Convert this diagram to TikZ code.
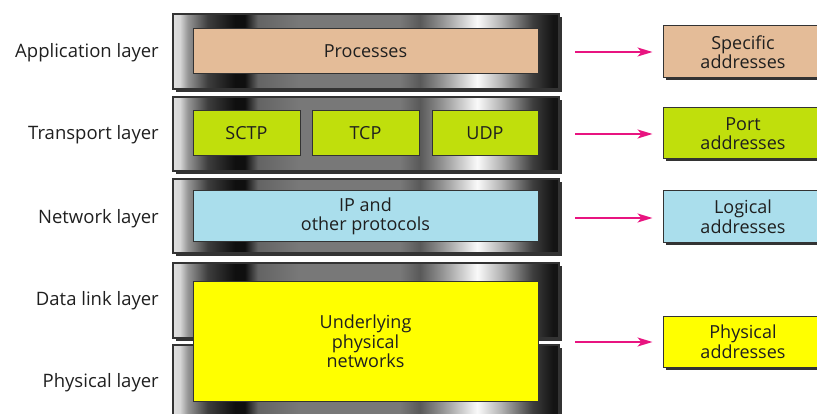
\documentclass[tikz,border=0pt]{standalone}
\usepackage{fontspec}
\setmainfont{Open Sans}
\usetikzlibrary{shadows,arrows.meta}
\pgfdeclarehorizontalshading{metal}{100bp}{%
color(0bp)=(black!12);
color(25bp)=(black!12);
color(25.9bp)=(black!16);
color(26.9bp)=(black!41);
color(29.5bp)=(black!76);
color(33bp)=(black!94);
color(34.3bp)=(black!94);
color(36bp)=(black!61);
color(41.2bp)=(black!53);
color(54.4bp)=(black!53);
color(57bp)=(black!65);
color(60bp)=(black!41);
color(64.4bp)=(black!2);
color(67.4bp)=(black!29);
color(71.6bp)=(black!76);
color(74.2bp)=(black!92);
color(75bp)=(black!92);
color(100bp)=(black!92)}
\definecolor{tan}{RGB}{228,188,152}
\definecolor{lime}{RGB}{192,223,12}
\definecolor{ltblue}{RGB}{170,222,236}
\definecolor{yel}{RGB}{255,255,0}
\definecolor{pink}{RGB}{232,20,128}
\tikzset{
  lbl/.style={anchor=east,font=\fontsize{18.5}{20}\selectfont,inner sep=0pt,text=black!88},
  layer/.style={draw=black!80,line width=1.2pt,shading=metal,minimum width=386pt,
    drop shadow={shadow xshift=3pt,shadow yshift=-3pt,fill=black!80,opacity=1},inner sep=0pt},
  inbox/.style={draw=black!80,line width=1pt,inner sep=0pt,align=center,text=black!88,
    font=\fontsize{18}{19.5}\selectfont},
  addr/.style={draw=black!80,line width=1pt,inner sep=0pt,align=center,minimum width=160pt,
    text=black!88,font=\fontsize{18}{19.5}\selectfont,
    drop shadow={shadow xshift=2.5pt,shadow yshift=-2.5pt,fill=black!80,opacity=1}},
  arr/.style={pink,line width=2pt,-{Stealth[length=15pt,width=9pt,inset=4pt]}}
}
\begin{document}
\begin{tikzpicture}[x=1pt,y=-1pt]
\path[use as bounding box,clip] (0,0) rectangle (817,414);
% left labels
\node[lbl] (lapp) at (159,53) {Application layer};
\node[lbl] (ltr) at (159,134.5) {Transport layer};
\node[lbl] (lnet) at (159,218.5) {Network layer};
\node[lbl] (ldl) at (159,300.5) {Data link layer};
\node[lbl] (lph) at (159,382.5) {Physical layer};
% layers
\node[layer,minimum height=75pt] (app) at (366,51.5) {};
\node[layer,minimum height=74pt] (tr) at (366,134) {};
\node[layer,minimum height=74pt] (net) at (366,216) {};
\node[layer,minimum height=75pt] (dl) at (366,300.5) {};
\node[layer,minimum height=75pt] (ph) at (366,382.5) {};
% inner boxes
\node[inbox,fill=tan,minimum width=345pt,minimum height=45pt] (proc) at (365.5,51.5) {Processes};
\node[inbox,fill=lime,minimum width=107pt,minimum height=45pt] (sctp) at (246.5,133.5) {SCTP};
\node[inbox,fill=lime,minimum width=107pt,minimum height=45pt] (tcp) at (365.5,133.5) {TCP};
\node[inbox,fill=lime,minimum width=106pt,minimum height=45pt] (udp) at (485,133.5) {UDP};
\node[inbox,fill=ltblue,minimum width=345pt,minimum height=51pt] (ip) at (365.5,216.5) {IP and\\other protocols};
\node[inbox,fill=yel,minimum width=345pt,minimum height=119pt] (und) at (365.5,341.5) {Underlying\\physical\\networks};
% address boxes
\node[addr,fill=tan,minimum height=52pt] (spec) at (743,52) {Specific\\addresses};
\node[addr,fill=lime,minimum height=51pt] (port) at (743,133.5) {Port\\addresses};
\node[addr,fill=ltblue,minimum height=52pt] (logi) at (743,217) {Logical\\addresses};
\node[addr,fill=yel,minimum height=51pt] (phys) at (743,341.5) {Physical\\addresses};
% arrows
\coordinate (a1) at (575,52);
\coordinate (a2) at (575,134);
\coordinate (a3) at (575,218);
\coordinate (a4) at (575,342);
\draw[arr,shorten >=10pt] (a1) -- (a1 -| spec.west);
\draw[arr,shorten >=10pt] (a2) -- (a2 -| port.west);
\draw[arr,shorten >=10pt] (a3) -- (a3 -| logi.west);
\draw[arr,shorten >=10pt] (a4) -- (a4 -| phys.west);
\end{tikzpicture}
\end{document}
